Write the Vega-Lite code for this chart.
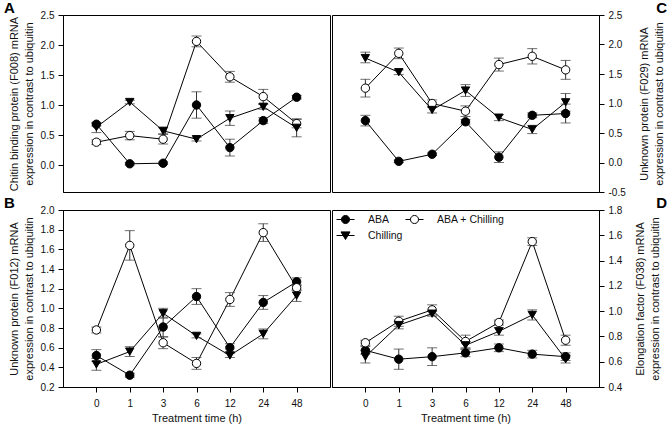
{
  "$schema": "https://vega.github.io/schema/vega-lite/v6.json",
  "padding": {"left": 3, "top": 0, "right": 0, "bottom": 0},
  "datasets": {
    "expr": [
      {"panel":"A","time":"0","series":"ABA","mean":0.68,"lo":0.65,"hi":0.71},
      {"panel":"A","time":"1","series":"ABA","mean":0.02,"lo":0.00,"hi":0.04},
      {"panel":"A","time":"3","series":"ABA","mean":0.03,"lo":0.01,"hi":0.05},
      {"panel":"A","time":"6","series":"ABA","mean":1.00,"lo":0.78,"hi":1.22},
      {"panel":"A","time":"12","series":"ABA","mean":0.29,"lo":0.15,"hi":0.43},
      {"panel":"A","time":"24","series":"ABA","mean":0.74,"lo":0.69,"hi":0.79},
      {"panel":"A","time":"48","series":"ABA","mean":1.13,"lo":1.10,"hi":1.16},
      {"panel":"A","time":"0","series":"ABA + Chilling","mean":0.38,"lo":0.34,"hi":0.42},
      {"panel":"A","time":"1","series":"ABA + Chilling","mean":0.49,"lo":0.42,"hi":0.56},
      {"panel":"A","time":"3","series":"ABA + Chilling","mean":0.43,"lo":0.35,"hi":0.51},
      {"panel":"A","time":"6","series":"ABA + Chilling","mean":2.06,"lo":1.97,"hi":2.15},
      {"panel":"A","time":"12","series":"ABA + Chilling","mean":1.47,"lo":1.38,"hi":1.56},
      {"panel":"A","time":"24","series":"ABA + Chilling","mean":1.14,"lo":1.02,"hi":1.26},
      {"panel":"A","time":"48","series":"ABA + Chilling","mean":0.69,"lo":0.62,"hi":0.76},
      {"panel":"A","time":"0","series":"Chilling","mean":0.63,"lo":0.54,"hi":0.70},
      {"panel":"A","time":"1","series":"Chilling","mean":1.05,"lo":1.02,"hi":1.08},
      {"panel":"A","time":"3","series":"Chilling","mean":0.57,"lo":0.52,"hi":0.62},
      {"panel":"A","time":"6","series":"Chilling","mean":0.43,"lo":0.40,"hi":0.46},
      {"panel":"A","time":"12","series":"Chilling","mean":0.78,"lo":0.66,"hi":0.90},
      {"panel":"A","time":"24","series":"Chilling","mean":0.97,"lo":0.93,"hi":1.01},
      {"panel":"A","time":"48","series":"Chilling","mean":0.62,"lo":0.47,"hi":0.77},

      {"panel":"C","time":"0","series":"ABA","mean":0.71,"lo":0.62,"hi":0.80},
      {"panel":"C","time":"1","series":"ABA","mean":0.02,"lo":0.00,"hi":0.04},
      {"panel":"C","time":"3","series":"ABA","mean":0.14,"lo":0.12,"hi":0.16},
      {"panel":"C","time":"6","series":"ABA","mean":0.69,"lo":0.65,"hi":0.73},
      {"panel":"C","time":"12","series":"ABA","mean":0.09,"lo":0.00,"hi":0.18},
      {"panel":"C","time":"24","series":"ABA","mean":0.80,"lo":0.76,"hi":0.84},
      {"panel":"C","time":"48","series":"ABA","mean":0.83,"lo":0.67,"hi":0.99},
      {"panel":"C","time":"0","series":"ABA + Chilling","mean":1.26,"lo":1.11,"hi":1.41},
      {"panel":"C","time":"1","series":"ABA + Chilling","mean":1.85,"lo":1.76,"hi":1.94},
      {"panel":"C","time":"3","series":"ABA + Chilling","mean":1.00,"lo":0.94,"hi":1.06},
      {"panel":"C","time":"6","series":"ABA + Chilling","mean":0.87,"lo":0.78,"hi":0.96},
      {"panel":"C","time":"12","series":"ABA + Chilling","mean":1.66,"lo":1.55,"hi":1.77},
      {"panel":"C","time":"24","series":"ABA + Chilling","mean":1.80,"lo":1.67,"hi":1.93},
      {"panel":"C","time":"48","series":"ABA + Chilling","mean":1.57,"lo":1.41,"hi":1.73},
      {"panel":"C","time":"0","series":"Chilling","mean":1.77,"lo":1.69,"hi":1.87},
      {"panel":"C","time":"1","series":"Chilling","mean":1.53,"lo":1.49,"hi":1.57},
      {"panel":"C","time":"3","series":"Chilling","mean":0.89,"lo":0.84,"hi":0.94},
      {"panel":"C","time":"6","series":"Chilling","mean":1.22,"lo":1.12,"hi":1.32},
      {"panel":"C","time":"12","series":"Chilling","mean":0.76,"lo":0.71,"hi":0.81},
      {"panel":"C","time":"24","series":"Chilling","mean":0.56,"lo":0.49,"hi":0.63},
      {"panel":"C","time":"48","series":"Chilling","mean":1.02,"lo":0.87,"hi":1.17},

      {"panel":"B","time":"0","series":"ABA","mean":0.52,"lo":0.46,"hi":0.58},
      {"panel":"B","time":"1","series":"ABA","mean":0.32,"lo":0.30,"hi":0.34},
      {"panel":"B","time":"3","series":"ABA","mean":0.81,"lo":0.71,"hi":0.91},
      {"panel":"B","time":"6","series":"ABA","mean":1.12,"lo":1.04,"hi":1.20},
      {"panel":"B","time":"12","series":"ABA","mean":0.60,"lo":0.56,"hi":0.64},
      {"panel":"B","time":"24","series":"ABA","mean":1.06,"lo":0.99,"hi":1.13},
      {"panel":"B","time":"48","series":"ABA","mean":1.27,"lo":1.23,"hi":1.31},
      {"panel":"B","time":"0","series":"ABA + Chilling","mean":0.78,"lo":0.75,"hi":0.81},
      {"panel":"B","time":"1","series":"ABA + Chilling","mean":1.64,"lo":1.49,"hi":1.79},
      {"panel":"B","time":"3","series":"ABA + Chilling","mean":0.65,"lo":0.59,"hi":0.71},
      {"panel":"B","time":"6","series":"ABA + Chilling","mean":0.44,"lo":0.38,"hi":0.50},
      {"panel":"B","time":"12","series":"ABA + Chilling","mean":1.09,"lo":1.02,"hi":1.16},
      {"panel":"B","time":"24","series":"ABA + Chilling","mean":1.77,"lo":1.68,"hi":1.86},
      {"panel":"B","time":"48","series":"ABA + Chilling","mean":1.21,"lo":1.18,"hi":1.24},
      {"panel":"B","time":"0","series":"Chilling","mean":0.43,"lo":0.37,"hi":0.49},
      {"panel":"B","time":"1","series":"Chilling","mean":0.56,"lo":0.51,"hi":0.61},
      {"panel":"B","time":"3","series":"Chilling","mean":0.95,"lo":0.90,"hi":1.00},
      {"panel":"B","time":"6","series":"Chilling","mean":0.72,"lo":0.70,"hi":0.74},
      {"panel":"B","time":"12","series":"Chilling","mean":0.52,"lo":0.50,"hi":0.54},
      {"panel":"B","time":"24","series":"Chilling","mean":0.74,"lo":0.69,"hi":0.79},
      {"panel":"B","time":"48","series":"Chilling","mean":1.13,"lo":1.07,"hi":1.19},

      {"panel":"D","time":"0","series":"ABA","mean":0.69,"lo":0.66,"hi":0.72},
      {"panel":"D","time":"1","series":"ABA","mean":0.62,"lo":0.54,"hi":0.70},
      {"panel":"D","time":"3","series":"ABA","mean":0.64,"lo":0.57,"hi":0.71},
      {"panel":"D","time":"6","series":"ABA","mean":0.67,"lo":0.64,"hi":0.70},
      {"panel":"D","time":"12","series":"ABA","mean":0.71,"lo":0.68,"hi":0.74},
      {"panel":"D","time":"24","series":"ABA","mean":0.66,"lo":0.63,"hi":0.69},
      {"panel":"D","time":"48","series":"ABA","mean":0.64,"lo":0.61,"hi":0.67},
      {"panel":"D","time":"0","series":"ABA + Chilling","mean":0.75,"lo":0.73,"hi":0.77},
      {"panel":"D","time":"1","series":"ABA + Chilling","mean":0.92,"lo":0.88,"hi":0.96},
      {"panel":"D","time":"3","series":"ABA + Chilling","mean":1.01,"lo":0.97,"hi":1.05},
      {"panel":"D","time":"6","series":"ABA + Chilling","mean":0.76,"lo":0.71,"hi":0.81},
      {"panel":"D","time":"12","series":"ABA + Chilling","mean":0.91,"lo":0.89,"hi":0.93},
      {"panel":"D","time":"24","series":"ABA + Chilling","mean":1.55,"lo":1.52,"hi":1.58},
      {"panel":"D","time":"48","series":"ABA + Chilling","mean":0.77,"lo":0.73,"hi":0.81},
      {"panel":"D","time":"0","series":"Chilling","mean":0.64,"lo":0.59,"hi":0.69},
      {"panel":"D","time":"1","series":"Chilling","mean":0.89,"lo":0.86,"hi":0.92},
      {"panel":"D","time":"3","series":"Chilling","mean":0.98,"lo":0.96,"hi":1.00},
      {"panel":"D","time":"6","series":"Chilling","mean":0.73,"lo":0.70,"hi":0.76},
      {"panel":"D","time":"12","series":"Chilling","mean":0.84,"lo":0.81,"hi":0.87},
      {"panel":"D","time":"24","series":"Chilling","mean":0.97,"lo":0.93,"hi":1.01},
      {"panel":"D","time":"48","series":"Chilling","mean":0.62,"lo":0.59,"hi":0.65}
    ]
  },
  "data": {"name": "expr"},
  "spacing": -3,
  "vconcat": [
    {
      "spacing": 0,
      "hconcat": [
        {
          "width": 267, "height": 177,
          "title": {"text": "A", "dx": -59},
          "transform": [{"filter": "datum.panel == 'A'"}],
          "encoding": {
            "x": {"field": "time", "type": "ordinal", "sort": ["0","1","3","6","12","24","48"], "scale": {"type": "point", "padding": 1}, "axis": null},
            "y": {"field": "mean", "type": "quantitative", "scale": {"domain": [-0.45, 2.5], "nice": false, "zero": false},
              "axis": {"orient": "left", "values": [0,0.5,1,1.5,2,2.5], "labelExpr": "replace(format(datum.value,'.1f'),'\u2212','-')", "title": ["Chitin binding protein (F008) mRNA","expression in contrast to ubiquitin"], "titlePadding": 6, "titleLineHeight": 15}}
          },
          "layer": [
            {"mark": {"type": "line", "color": "#000", "strokeWidth": 1}, "encoding": {"detail": {"field": "series"}}},
            {"mark": {"type": "errorbar", "color": "#333", "thickness": 1, "ticks": {"size": 10, "thickness": 1, "color": "#333"}},
             "encoding": {"y": {"field": "lo", "type": "quantitative", "scale": {"domain": [-0.45, 2.5], "nice": false, "zero": false},
              "axis": {"orient": "left", "values": [0,0.5,1,1.5,2,2.5], "labelExpr": "replace(format(datum.value,'.1f'),'\u2212','-')", "title": ["Chitin binding protein (F008) mRNA","expression in contrast to ubiquitin"], "titlePadding": 6, "titleLineHeight": 15}}, "y2": {"field": "hi"}}},
            {"mark": {"type": "point", "filled": true, "size": 70, "stroke": "#000", "strokeWidth": 1, "opacity": 1},
             "encoding": {
               "shape": {"field": "series", "scale": {"domain": ["ABA","ABA + Chilling","Chilling"], "range": ["circle","circle","triangle-down"]}, "legend": null},
               "fill": {"field": "series", "scale": {"domain": ["ABA","ABA + Chilling","Chilling"], "range": ["#000","#fff","#000"]}, "legend": null}}}
          ]
        },
        {
          "width": 267, "height": 177,
          "title": {"text": "C", "anchor": "end", "dx": 68},
          "transform": [{"filter": "datum.panel == 'C'"}],
          "encoding": {
            "x": {"field": "time", "type": "ordinal", "sort": ["0","1","3","6","12","24","48"], "scale": {"type": "point", "padding": 1}, "axis": null},
            "y": {"field": "mean", "type": "quantitative", "scale": {"domain": [-0.5, 2.5], "nice": false, "zero": false},
              "axis": {"orient": "right", "values": [-0.5,0,0.5,1,1.5,2,2.5], "labelExpr": "replace(format(datum.value,'.1f'),'\u2212','-')", "title": ["Unknown protein (F029) mRNA","expression in contrast to ubiquitin"], "titleAngle": 270, "titleBaseline": "top", "titlePadding": -2, "titleLineHeight": 15}}
          },
          "layer": [
            {"mark": {"type": "line", "color": "#000", "strokeWidth": 1}, "encoding": {"detail": {"field": "series"}}},
            {"mark": {"type": "errorbar", "color": "#333", "thickness": 1, "ticks": {"size": 10, "thickness": 1, "color": "#333"}},
             "encoding": {"y": {"field": "lo", "type": "quantitative", "scale": {"domain": [-0.5, 2.5], "nice": false, "zero": false},
              "axis": {"orient": "right", "values": [-0.5,0,0.5,1,1.5,2,2.5], "labelExpr": "replace(format(datum.value,'.1f'),'\u2212','-')", "title": ["Unknown protein (F029) mRNA","expression in contrast to ubiquitin"], "titleAngle": 270, "titleBaseline": "top", "titlePadding": -2, "titleLineHeight": 15}}, "y2": {"field": "hi"}}},
            {"mark": {"type": "point", "filled": true, "size": 70, "stroke": "#000", "strokeWidth": 1, "opacity": 1},
             "encoding": {
               "shape": {"field": "series", "scale": {"domain": ["ABA","ABA + Chilling","Chilling"], "range": ["circle","circle","triangle-down"]}, "legend": null},
               "fill": {"field": "series", "scale": {"domain": ["ABA","ABA + Chilling","Chilling"], "range": ["#000","#fff","#000"]}, "legend": null}}}
          ]
        }
      ]
    },
    {
      "spacing": 0,
      "hconcat": [
        {
          "width": 267, "height": 177,
          "title": {"text": "B", "dx": -59},
          "transform": [{"filter": "datum.panel == 'B'"}],
          "encoding": {
            "x": {"field": "time", "type": "ordinal", "sort": ["0","1","3","6","12","24","48"], "scale": {"type": "point", "padding": 1},
              "axis": {"labelAngle": 0, "title": "Treatment time (h)", "labelPadding": 6, "titlePadding": 4}},
            "y": {"field": "mean", "type": "quantitative", "scale": {"domain": [0.2, 2.0], "nice": false, "zero": false},
              "axis": {"orient": "left", "values": [0.2,0.4,0.6,0.8,1,1.2,1.4,1.6,1.8,2], "format": ".1f", "title": ["Unknown protein (F012) mRNA","expression in contrast to ubiquitin"], "titlePadding": 6, "titleLineHeight": 15}}
          },
          "layer": [
            {"mark": {"type": "line", "color": "#000", "strokeWidth": 1}, "encoding": {"detail": {"field": "series"}}},
            {"mark": {"type": "errorbar", "color": "#333", "thickness": 1, "ticks": {"size": 10, "thickness": 1, "color": "#333"}},
             "encoding": {"y": {"field": "lo", "type": "quantitative", "scale": {"domain": [0.2, 2.0], "nice": false, "zero": false},
              "axis": {"orient": "left", "values": [0.2,0.4,0.6,0.8,1,1.2,1.4,1.6,1.8,2], "format": ".1f", "title": ["Unknown protein (F012) mRNA","expression in contrast to ubiquitin"], "titlePadding": 6, "titleLineHeight": 15}}, "y2": {"field": "hi"}}},
            {"mark": {"type": "point", "filled": true, "size": 70, "stroke": "#000", "strokeWidth": 1, "opacity": 1},
             "encoding": {
               "shape": {"field": "series", "scale": {"domain": ["ABA","ABA + Chilling","Chilling"], "range": ["circle","circle","triangle-down"]}, "legend": null},
               "fill": {"field": "series", "scale": {"domain": ["ABA","ABA + Chilling","Chilling"], "range": ["#000","#fff","#000"]}, "legend": null}}}
          ]
        },
        {
          "width": 267, "height": 177,
          "title": {"text": "D", "anchor": "end", "dx": 68},
          "transform": [{"filter": "datum.panel == 'D'"}],
          "encoding": {
            "x": {"field": "time", "type": "ordinal", "sort": ["0","1","3","6","12","24","48"], "scale": {"type": "point", "padding": 1},
              "axis": {"labelAngle": 0, "title": "Treatment time (h)", "labelPadding": 6, "titlePadding": 4}},
            "y": {"field": "mean", "type": "quantitative", "scale": {"domain": [0.4, 1.8], "nice": false, "zero": false},
              "axis": {"orient": "right", "values": [0.4,0.6,0.8,1,1.2,1.4,1.6,1.8], "format": ".1f", "title": ["Elongation factor (F038) mRNA","expression in contrast to ubiquitin"], "titleAngle": 270, "titleBaseline": "top", "titlePadding": -2, "titleLineHeight": 15}}
          },
          "resolve": {"scale": {"shape": "independent", "fill": "independent", "stroke": "independent"}, "legend": {"shape": "independent", "fill": "independent", "stroke": "independent"}},
          "layer": [
            {"mark": {"type": "line", "color": "#000", "strokeWidth": 1}, "encoding": {"detail": {"field": "series"}}},
            {"mark": {"type": "errorbar", "color": "#333", "thickness": 1, "ticks": {"size": 10, "thickness": 1, "color": "#333"}},
             "encoding": {"y": {"field": "lo", "type": "quantitative", "scale": {"domain": [0.4, 1.8], "nice": false, "zero": false},
              "axis": {"orient": "right", "values": [0.4,0.6,0.8,1,1.2,1.4,1.6,1.8], "format": ".1f", "title": ["Elongation factor (F038) mRNA","expression in contrast to ubiquitin"], "titleAngle": 270, "titleBaseline": "top", "titlePadding": -2, "titleLineHeight": 15}}, "y2": {"field": "hi"}}},
            {"mark": {"type": "point", "filled": true, "size": 70, "stroke": "#000", "strokeWidth": 1, "opacity": 1},
             "encoding": {
               "shape": {"field": "series", "scale": {"domain": ["ABA","ABA + Chilling","Chilling"], "range": ["circle","circle","triangle-down"]}, "legend": null},
               "fill": {"field": "series", "scale": {"domain": ["ABA","ABA + Chilling","Chilling"], "range": ["#000","#fff","#000"]}, "legend": null}}},
            {"mark": {"type": "point", "filled": false, "size": 0, "strokeWidth": 1, "opacity": 1},
             "encoding": {
               "shape": {"field": "series", "scale": {"domain": ["ABA","ABA + Chilling","Chilling"], "range": [
                 "M-1,0L-0.45,0M0.45,0L1,0M0.45,0A0.45,0.45 0 1 1 -0.45,0A0.45,0.45 0 1 1 0.45,0Z",
                 "M-1,0L-0.45,0M0.45,0L1,0M0.45,0A0.45,0.45 0 1 1 -0.45,0A0.45,0.45 0 1 1 0.45,0Z",
                 "M-1,0L1,0M-0.5,-0.4L0.5,-0.4L0,0.45Z"]},
                 "legend": {"orient": "none", "legendX": 4, "legendY": 0, "columns": 2, "direction": "horizontal", "gridAlign": "none", "title": null, "padding": 0, "symbolSize": 324, "symbolStrokeWidth": 1, "labelFont": "Liberation Sans", "labelFontSize": 10.5, "labelColor": "#111", "labelOffset": 13, "columnPadding": 0, "rowPadding": 0}},
               "fill": {"field": "series", "scale": {"domain": ["ABA","ABA + Chilling","Chilling"], "range": ["#000","#fff","#000"]},
                 "legend": {"orient": "none", "legendX": 4, "legendY": 0, "columns": 2, "direction": "horizontal", "gridAlign": "none", "title": null, "padding": 0, "symbolSize": 324, "symbolStrokeWidth": 1, "labelFont": "Liberation Sans", "labelFontSize": 10.5, "labelColor": "#111", "labelOffset": 13, "columnPadding": 0, "rowPadding": 0}},
               "stroke": {"field": "series", "scale": {"domain": ["ABA","ABA + Chilling","Chilling"], "range": ["#000","#000","#000"]},
                 "legend": {"orient": "none", "legendX": 4, "legendY": 0, "columns": 2, "direction": "horizontal", "gridAlign": "none", "title": null, "padding": 0, "symbolSize": 324, "symbolStrokeWidth": 1, "labelFont": "Liberation Sans", "labelFontSize": 10.5, "labelColor": "#111", "labelOffset": 13, "columnPadding": 0, "rowPadding": 0}}}}
          ]
        }
      ]
    }
  ],
  "config": {
    "view": {"stroke": "#000", "strokeWidth": 1},
    "axis": {"domainColor": "#000", "tickColor": "#000", "tickSize": 5, "labelFont": "Liberation Sans", "labelFontSize": 10, "labelColor": "#111", "labelOverlap": false, "titleFont": "Liberation Sans", "titleFontSize": 11, "titleFontWeight": "normal", "titleColor": "#111", "grid": false, "labelPadding": 4},
    "legend": {"gridAlign": "none"},
    "title": {"font": "Liberation Sans", "fontSize": 15, "fontWeight": "bold", "anchor": "start", "frame": "group", "offset": -6, "baseline": "alphabetic", "color": "#000"}
  }
}
